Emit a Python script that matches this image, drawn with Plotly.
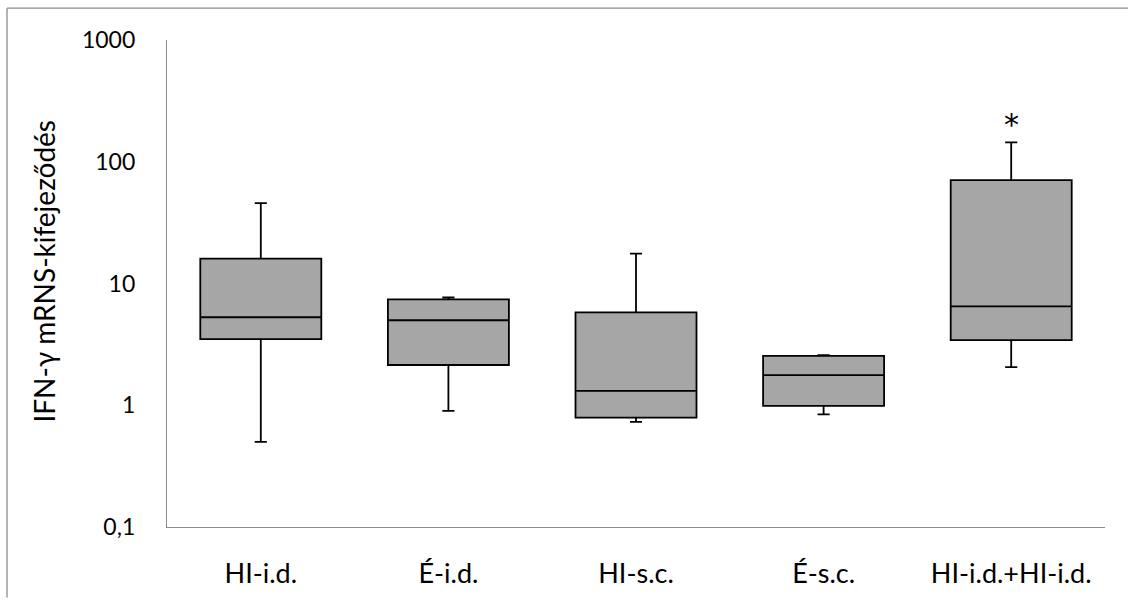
import plotly.graph_objects as go
import math

# Groups and their box-plot statistics (IFN-γ mRNS relative expression)
groups = ["HI-i.d.", "É-i.d.", "HI-s.c.", "É-s.c.", "HI-i.d.+HI-i.d."]
lower_whisker = [0.50, 0.90, 0.73, 0.84, 2.06]
q1_values = [3.49, 2.14, 0.79, 0.99, 3.43]
median_values = [5.28, 4.99, 1.31, 1.77, 6.49]
q3_values = [16.0, 7.40, 5.80, 2.54, 70.6]
upper_whisker = [45.8, 7.69, 17.6, 2.58, 144.0]

# Significance marker placed above a group
marker_group = "HI-i.d.+HI-i.d."
marker_text = "*"

y_title = "IFN-γ mRNS-kifejeződés"
y_tick_vals = [0.1, 1, 10, 100, 1000]
y_tick_text = ["0,1", "1", "10", "100", "1000"]

FONT = "Lato, Carlito, Calibri, sans-serif"
AXIS_GREY = "#8c8c8c"

# plot area in pixels
L, R, T, B = 167, 23, 40, 71
W, H = 1128, 601
PW, PH = W - L - R, H - T - B

fig = go.Figure()
fig.add_trace(go.Box(
    x=groups,
    q1=q1_values,
    median=median_values,
    q3=q3_values,
    lowerfence=lower_whisker,
    upperfence=upper_whisker,
    fillcolor="#a6a6a6",
    line=dict(color="black", width=1.8),
    whiskerwidth=0.1,
    width=0.645,
    boxpoints=False,
    hoverinfo="skip",
    showlegend=False,
))

mi = groups.index(marker_group)
fig.add_annotation(
    x=groups[mi], y=math.log10(upper_whisker[mi]),
    text=marker_text, showarrow=False,
    yanchor="bottom", yshift=-2,
    font=dict(family="DejaVu Sans", size=30, color="black"),
)

# vertical axis title
fig.add_annotation(
    xref="paper", yref="paper",
    x=(44 - L) / PW, y=(H - B - 273) / PH,
    text=y_title, textangle=-90, showarrow=False,
    xanchor="center", yanchor="middle",
    font=dict(size=28, family=FONT, color="black"),
)

fig.update_layout(
    width=W, height=H,
    margin=dict(l=L, r=R, t=T, b=B),
    paper_bgcolor="white", plot_bgcolor="white",
    font=dict(family=FONT, color="black"),
    xaxis=dict(
        type="category",
        showline=True, linecolor=AXIS_GREY, linewidth=1.3,
        showgrid=False, zeroline=False, ticks="",
        ticklabelstandoff=22,
        tickfont=dict(size=27, family=FONT, color="black"),
        range=[-0.5, 4.5],
        fixedrange=True,
    ),
    yaxis=dict(
        type="log", range=[-1, 3],
        tickvals=y_tick_vals, ticktext=y_tick_text,
        showline=True, linecolor=AXIS_GREY, linewidth=1.3,
        showgrid=False, zeroline=False, ticks="",
        ticklabelstandoff=26,
        tickfont=dict(size=23, family=FONT, color="black"),
        fixedrange=True,
    ),
)

# Chart-area frame (left and top edges)
fig.add_shape(type="line", xref="paper", yref="paper",
              x0=(7 - L) / PW, x1=(7 - L) / PW, y0=-B / PH, y1=(H - B - 8) / PH,
              line=dict(color=AXIS_GREY, width=1.3))
fig.add_shape(type="line", xref="paper", yref="paper",
              x0=(7 - L) / PW, x1=(W - L) / PW, y0=(H - B - 8) / PH, y1=(H - B - 8) / PH,
              line=dict(color=AXIS_GREY, width=1.3))

fig.write_html("out.html", config={"displayModeBar": False})
